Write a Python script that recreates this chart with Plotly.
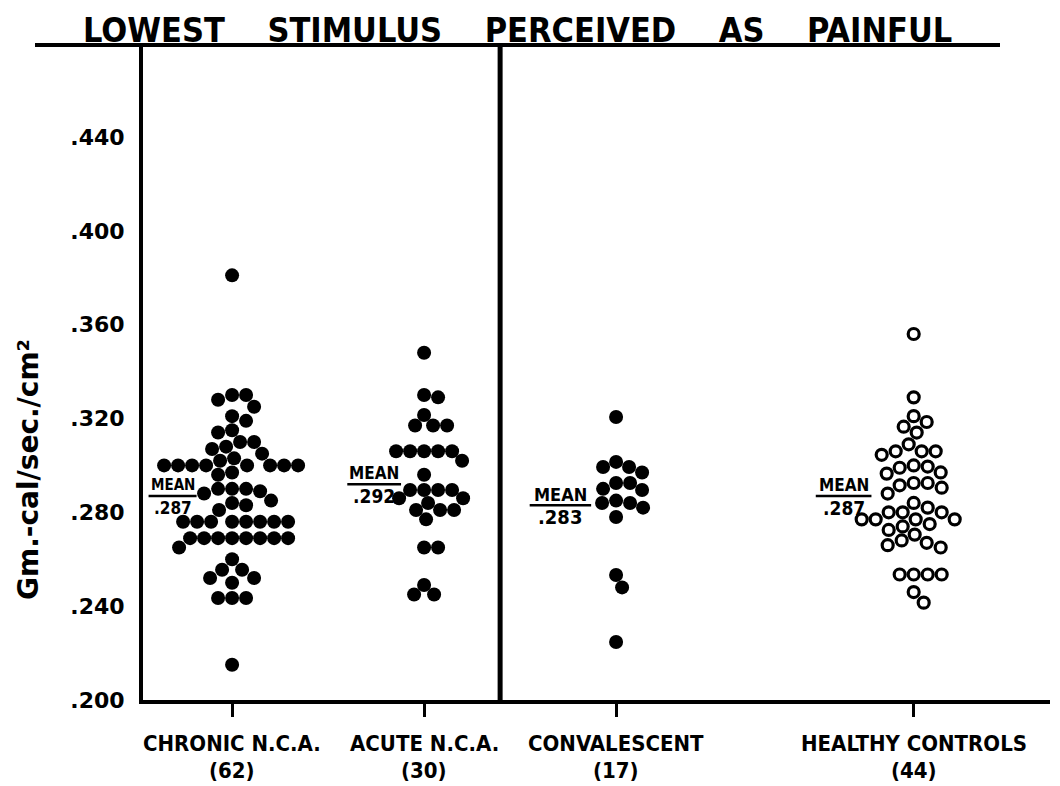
import plotly.graph_objects as go

# ---------------- data ----------------
groups = ["CHRONIC N.C.A.", "ACUTE N.C.A.", "CONVALESCENT", "HEALTHY CONTROLS"]
group_counts = ["(62)", "(30)", "(17)", "(44)"]
group_positions = [1.0, 2.0, 3.0, 4.55]
group_means = [0.287, 0.292, 0.283, 0.287]
mean_labels = [".287", ".292", ".283", ".287"]

chronic = [0.381, 0.330, 0.330, 0.328, 0.325, 0.321, 0.319, 0.315, 0.314, 0.310,
           0.310, 0.308, 0.307, 0.305, 0.303, 0.302,
           0.300, 0.300, 0.300, 0.300, 0.300, 0.300, 0.300, 0.300,
           0.297, 0.296, 0.290, 0.290, 0.290, 0.289, 0.288,
           0.285, 0.284, 0.283, 0.281,
           0.276, 0.276, 0.276, 0.276, 0.276, 0.276, 0.276, 0.276,
           0.269, 0.269, 0.269, 0.269, 0.269, 0.269, 0.269, 0.269,
           0.265, 0.260, 0.2555, 0.2555, 0.252, 0.252, 0.250,
           0.2435, 0.2435, 0.2435, 0.215]
acute = [0.348, 0.330, 0.329, 0.3215, 0.317, 0.317, 0.317,
         0.306, 0.306, 0.306, 0.306, 0.306, 0.302, 0.296,
         0.2895, 0.2895, 0.2895, 0.2895, 0.286, 0.286, 0.284,
         0.281, 0.281, 0.281, 0.277, 0.265, 0.265, 0.249, 0.245, 0.245]
convalescent = [0.3206, 0.3015, 0.2993, 0.2993, 0.297, 0.2925, 0.290, 0.2925,
                0.2895, 0.285, 0.284, 0.284, 0.282, 0.278, 0.2533, 0.248, 0.2247]
healthy = [0.356, 0.329, 0.321, 0.3185, 0.3165, 0.314, 0.309,
           0.306, 0.306, 0.3045, 0.306, 0.300, 0.299, 0.2995, 0.297, 0.2965,
           0.2905, 0.2915, 0.2925, 0.2925, 0.288, 0.284, 0.282,
           0.280, 0.280, 0.280, 0.277, 0.277, 0.277, 0.277,
           0.274, 0.275, 0.2725, 0.2705, 0.265, 0.266, 0.267, 0.268,
           0.2535, 0.2535, 0.2535, 0.2535, 0.246, 0.2415]

y_ticks = [0.200, 0.240, 0.280, 0.320, 0.360, 0.400, 0.440]
y_tick_text = [".200", ".240", ".280", ".320", ".360", ".400", ".440"]

# ---------------- geometry ----------------
W, H = 1060, 786
ML, MR, MT, MB = 135, 18, 37, 94
PW, PH = W - ML - MR, H - MT - MB
X_RANGE = [0.536, 0.536 + PW / 192.0]
Y_RANGE = [0.200, 0.200 + PH / 2346.0]
PX_X = PW / (X_RANGE[1] - X_RANGE[0])
PX_Y = PH / (Y_RANGE[1] - Y_RANGE[0])
DIVIDER_X = 2.396


def swarm(values, center, diam):
    placed = []
    xs = [0.0] * len(values)
    order = sorted(range(len(values)), key=lambda i: -values[i])
    for i in order:
        y = values[i] * PX_Y
        best = None
        for k in range(0, 600):
            for s in ([0] if k == 0 else [k, -k]):
                if all((s - px) ** 2 + (y - py) ** 2 >= diam ** 2 for px, py in placed):
                    best = s
                    break
            if best is not None:
                break
        placed.append((best, y))
        xs[i] = center + best / PX_X
    return xs


def fig_py(page_y):
    # paper y fraction for a page pixel row (page offset 8px from body margin)
    return (MT + PH - (page_y - 8)) / PH


def fig_px(page_x):
    return (page_x - 8 - ML) / PW


FONT = "Liberation Sans Narrow, DejaVu Sans Condensed, Arial Narrow, sans-serif"
BOLD = "DejaVu Sans, sans-serif"

fig = go.Figure()
series = [chronic, acute, convalescent, healthy]
swarm_diams = [14.0, 13.5, 13.5, 14.0]
for gi, vals in enumerate(series):
    xs = swarm(vals, group_positions[gi], swarm_diams[gi])
    if gi < 3:
        marker = dict(symbol="circle", size=14, color="black", line=dict(width=0))
    else:
        marker = dict(symbol="circle-open", size=11, color="black", line=dict(width=3.2, color="black"))
    fig.add_trace(go.Scatter(x=xs, y=vals, mode="markers", marker=marker,
                             name=groups[gi], showlegend=False, hoverinfo="y"))

# mean labels
mean_offsets = [-0.31, -0.26, -0.29, -0.365]
mean_half = [0.125, 0.14, 0.16, 0.145]
mean_sizes = [15, 17, 18, 17]
for gi in range(4):
    cx = group_positions[gi] + mean_offsets[gi]
    m = group_means[gi]
    fig.add_shape(type="line", x0=cx - mean_half[gi], x1=cx + mean_half[gi], y0=m, y1=m,
                  line=dict(color="black", width=2.5))
    fig.add_annotation(x=cx, y=m, text="<b>MEAN</b>", showarrow=False, yshift=11, yanchor="middle",
                       font=dict(family=FONT, size=mean_sizes[gi], color="black"))
    fig.add_annotation(x=cx, y=m, text="<b>" + mean_labels[gi] + "</b>", showarrow=False, yshift=-12,
                       yanchor="middle", font=dict(family=FONT, size=mean_sizes[gi] + 2, color="black"))

# group labels
for gi in range(4):
    fig.add_annotation(x=group_positions[gi], y=fig_py(743), yref="paper", text="<b>" + groups[gi] + "</b>",
                       showarrow=False, yanchor="middle", font=dict(family=FONT, size=22, color="black"))
    fig.add_annotation(x=group_positions[gi], y=fig_py(770), yref="paper", text="<b>" + group_counts[gi] + "</b>",
                       showarrow=False, yanchor="middle", font=dict(family=FONT, size=22, color="black"))

# divider and top line
fig.add_shape(type="line", x0=DIVIDER_X, x1=DIVIDER_X, y0=0, y1=1, yref="paper",
              line=dict(color="black", width=5))
fig.add_shape(type="line", xref="paper", yref="paper", x0=fig_px(35), x1=fig_px(1000),
              y0=1, y1=1, line=dict(color="black", width=4))

# title
fig.add_annotation(xref="paper", yref="paper", x=fig_px(517), y=fig_py(30), yanchor="middle",
                   xanchor="center",
                   text="<b>LOWEST    STIMULUS    PERCEIVED    AS    PAINFUL</b>", showarrow=False,
                   font=dict(family=FONT, size=34, color="black"))

# y title
fig.add_annotation(xref="paper", yref="paper", x=fig_px(28), y=fig_py(470), yanchor="middle",
                   xanchor="center",
                   text="<b>Gm.-cal/sec./cm²</b>", textangle=-90, showarrow=False,
                   font=dict(family=BOLD, size=28, color="black"))

fig.update_layout(
    width=W, height=H, margin=dict(l=ML, r=MR, t=MT, b=MB),
    paper_bgcolor="white", plot_bgcolor="white",
    xaxis=dict(range=X_RANGE, showgrid=False, zeroline=False, showline=True, linewidth=4,
               linecolor="black", tickvals=group_positions, showticklabels=False,
               ticks="outside", ticklen=13, tickwidth=3, tickcolor="black"),
    yaxis=dict(range=Y_RANGE, showgrid=False, zeroline=False, showline=True, linewidth=4,
               linecolor="black", tickvals=y_ticks, ticktext=["<b>" + t + "</b>" for t in y_tick_text],
               ticks="", ticklabelstandoff=10,
               tickfont=dict(family=BOLD, size=22, color="black")),
)

fig.write_html("out.html")
